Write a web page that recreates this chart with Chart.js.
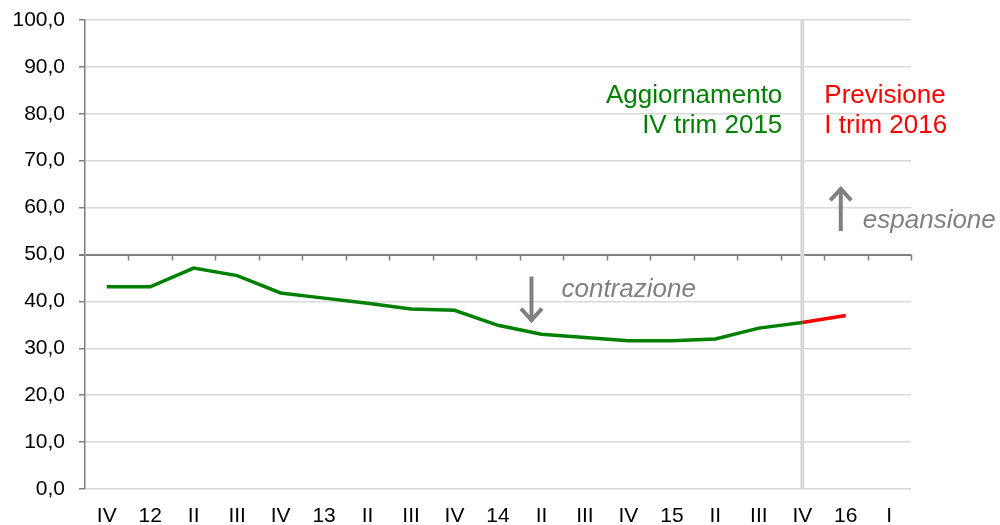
<!DOCTYPE html>
<html>
<head>
<meta charset="utf-8">
<script src="https://cdn.jsdelivr.net/npm/chart.js@4/dist/chart.umd.min.js"></script>
<style>
  html, body { margin: 0; padding: 0; background: #ffffff; }
  #wrap { width: 1000px; height: 525px; position: relative; }
</style>
</head>
<body>
<div id="wrap"><canvas id="c" width="1000" height="525"></canvas></div>
<script>
// Categories (quarters)
const categories = ['IV','12','II','III','IV','13','II','III','IV','14','II','III','IV','15','II','III','IV','16','I'];
// Observed index (green)
const observed = [43.1, 43.1, 47.1, 45.5, 41.8, 40.7, 39.6, 38.4, 38.1, 34.9, 33.0, 32.3, 31.6, 31.6, 32.0, 34.3, 35.5, null, null];
// Forecast (red)
const forecast = [null, null, null, null, null, null, null, null, null, null, null, null, null, null, null, null, 35.5, 37.0, null];
// Y tick values
const yTicks = [0, 10, 20, 30, 40, 50, 60, 70, 80, 90, 100];
const dividerIndex = 16;
const threshold = 50;
const FONT = "'Liberation Sans', Arial, sans-serif";

const annotPlugin = {
  id: 'annot',
  beforeDatasetsDraw(chart) {
    const ctx = chart.ctx, xs = chart.scales.x, ys = chart.scales.y, ca = chart.chartArea;
    ctx.save();
    // vertical divider
    const xd = xs.getPixelForValue(dividerIndex);
    ctx.strokeStyle = '#d9d9d9';
    ctx.lineWidth = 4;
    ctx.beginPath();
    ctx.moveTo(xd, ca.top);
    ctx.lineTo(xd, ca.bottom);
    ctx.stroke();
    // tick marks on the 50 axis at category boundaries
    const y50 = ys.getPixelForValue(threshold);
    const step = xs.getPixelForValue(1) - xs.getPixelForValue(0);
    ctx.strokeStyle = '#808080';
    ctx.lineWidth = 1.5;
    ctx.beginPath();
    for (let i = 1; i <= categories.length; i++) {
      const bx = Math.round(xs.getPixelForValue(i) - step / 2) + 0.5;
      ctx.moveTo(bx, y50);
      ctx.lineTo(bx, y50 + 6);
    }
    ctx.stroke();
    ctx.restore();
  },
  afterDatasetsDraw(chart) {
    const ctx = chart.ctx, xs = chart.scales.x, ys = chart.scales.y;
    const xd = xs.getPixelForValue(dividerIndex);
    ctx.save();
    ctx.font = '26px ' + FONT;
    ctx.textBaseline = 'alphabetic';
    ctx.fillStyle = '#008000';
    ctx.textAlign = 'right';
    ctx.fillText('Aggiornamento', xd - 20, ys.getPixelForValue(82.4));
    ctx.fillText('IV trim 2015', xd - 20, ys.getPixelForValue(75.8));
    ctx.fillStyle = '#ff0000';
    ctx.textAlign = 'left';
    ctx.fillText('Previsione', xd + 22, ys.getPixelForValue(82.4));
    ctx.fillText('I trim 2016', xd + 22, ys.getPixelForValue(75.8));

    // arrows
    function arrow(x, y1, y2) {
      ctx.strokeStyle = '#808080';
      ctx.lineWidth = 4;
      ctx.lineCap = 'butt';
      ctx.lineJoin = 'miter';
      ctx.beginPath();
      ctx.moveTo(x, y1);
      ctx.lineTo(x, y2);
      ctx.stroke();
      const dir = y2 > y1 ? 1 : -1;
      ctx.beginPath();
      ctx.moveTo(x - 10.5, y2 - dir * 13);
      ctx.lineTo(x, y2 - dir * 1.5);
      ctx.lineTo(x + 10.5, y2 - dir * 13);
      ctx.stroke();
    }
    const xUp = xs.getPixelForValue(17) - 5;
    arrow(xUp, ys.getPixelForValue(55.0), ys.getPixelForValue(64.3));
    const xDown = xs.getPixelForValue(10) - 10;
    arrow(xDown, ys.getPixelForValue(45.3), ys.getPixelForValue(35.7));

    ctx.fillStyle = '#808080';
    ctx.font = 'italic 26px ' + FONT;
    ctx.textAlign = 'left';
    ctx.fillText('espansione', xUp + 22, ys.getPixelForValue(55.6));
    ctx.fillText('contrazione', xDown + 30, ys.getPixelForValue(41.0));
    ctx.restore();
  }
};

new Chart(document.getElementById('c'), {
  type: 'line',
  data: {
    labels: categories,
    datasets: [
      { data: observed, borderColor: '#008000', borderWidth: 3.5, pointRadius: 0, tension: 0, fill: false },
      { data: forecast, borderColor: '#ff0000', borderWidth: 3.5, pointRadius: 0, tension: 0, fill: false }
    ]
  },
  options: {
    responsive: false,
    animation: false,
    devicePixelRatio: 1,
    layout: { padding: { left: 0, right: 89, top: 20, bottom: 0 } },
    plugins: { legend: { display: false }, tooltip: { enabled: false } },
    scales: {
      x: {
        type: 'category',
        offset: true,
        grid: { display: false, drawTicks: false },
        border: { display: false },
        ticks: { color: '#000', font: { family: FONT, size: 21 }, padding: 15, maxRotation: 0, autoSkip: false },
        afterFit(scale) { scale.height = 36; scale.paddingLeft = 0; scale.paddingRight = 0; }
      },
      y: {
        min: 0, max: 100,
        afterBuildTicks(scale) { scale.ticks = yTicks.map(v => ({ value: v })); },
        grid: {
          color: (c) => (c.tick && c.tick.value === threshold) ? '#808080' : '#d9d9d9',
          lineWidth: (c) => (c.tick && c.tick.value === threshold) ? 2 : 1.5,
          tickColor: '#808080',
          tickLength: 6,
          drawTicks: true
        },
        border: { display: true, color: '#808080', width: 1.5 },
        ticks: {
          color: '#000',
          font: { family: FONT, size: 21 },
          padding: 14,
          callback: (v) => Number(v).toFixed(1).replace('.', ',')
        },
        afterFit(scale) { scale.width = 85; scale.paddingTop = 0; scale.paddingBottom = 0; }
      }
    }
  },
  plugins: [annotPlugin]
});
</script>
</body>
</html>
